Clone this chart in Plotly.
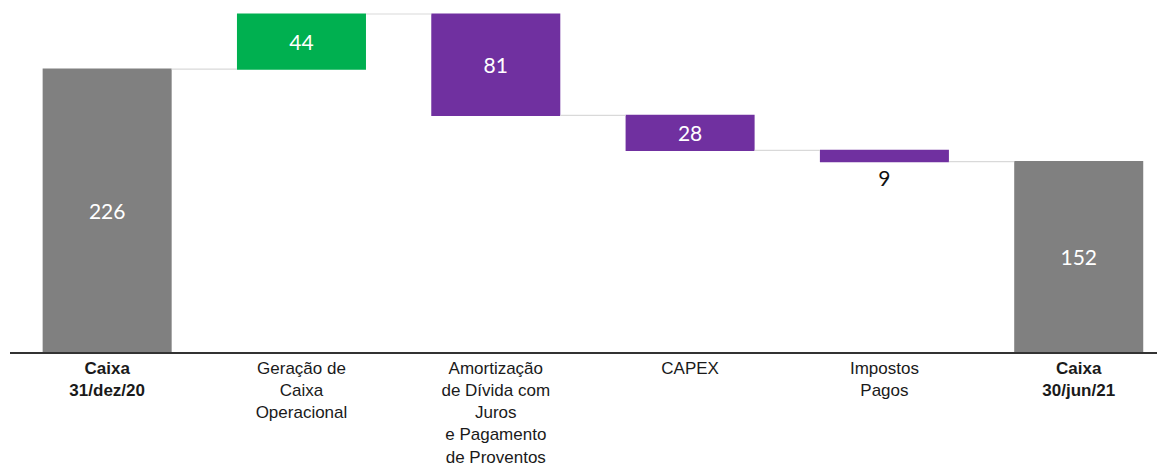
import plotly.graph_objects as go

categories = [
    "<b>Caixa<br>31/dez/20</b>",
    "Geração de<br>Caixa<br>Operacional",
    "Amortização<br>de Dívida com<br>Juros<br>e Pagamento<br>de Proventos",
    "CAPEX",
    "Impostos<br>Pagos",
    "<b>Caixa<br>30/jun/21</b>",
]
values = [226, 44, -81, -28, -9, 152]
measures = ["absolute", "relative", "relative", "relative", "relative", "total"]
labels = ["226", "44", "81", "28", "9", "152"]
text_positions = ["inside", "inside", "inside", "inside", "outside", "inside"]

fig = go.Figure(go.Waterfall(
    x=categories,
    y=values,
    measure=measures,
    text=labels,
    textposition=text_positions,
    texttemplate="%{text}",
    insidetextanchor="middle",
    insidetextfont=dict(color="white", size=21, family="Lato"),
    outsidetextfont=dict(color="#111111", size=21, family="Lato"),
    increasing=dict(marker=dict(color="#00B050")),
    decreasing=dict(marker=dict(color="#7030A0")),
    totals=dict(marker=dict(color="#808080")),
    connector=dict(line=dict(color="#D9D9D9", width=1.2), mode="between"),
    width=0.664,
    hoverinfo="skip",
    cliponaxis=False,
))

fig.update_layout(
    width=1157,
    height=460,
    margin=dict(l=2, r=0, t=0, b=116),
    paper_bgcolor="white",
    plot_bgcolor="white",
    showlegend=False,
    uniformtext=dict(minsize=21, mode="show"),
    xaxis=dict(
        range=[-0.5, 5.444],
        showline=True,
        linecolor="#333333",
        linewidth=1.5,
        showgrid=False,
        zeroline=False,
        ticks="",
        tickfont=dict(family="Liberation Sans, Arial", size=17, color="#1a1a1a"),
    ),
    yaxis=dict(
        range=[0, 274.8],
        visible=False,
        showgrid=False,
        zeroline=False,
    ),
)

fig.write_html("out.html")
